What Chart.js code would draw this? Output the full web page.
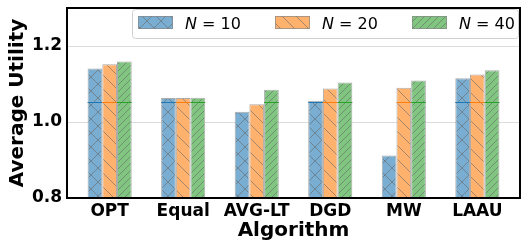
<!DOCTYPE html>
<html>
<head>
<meta charset="utf-8">
<script src="https://cdn.jsdelivr.net/npm/chart.js@4.4.1/dist/chart.umd.min.js"></script>
<style>
  html, body { margin: 0; padding: 0; background: #fff; }
  #wrap { width: 522px; height: 241px; }
</style>
</head>
<body>
<div id="wrap"><canvas id="chart" width="522" height="241"></canvas></div>
<script>
// data
const algorithms = ['OPT', 'Equal', 'AVG-LT', 'DGD', 'MW', 'LAAU'];
const seriesNames = ['10', '20', '40'];
const n10 = [1.141, 1.063, 1.027, 1.056, 0.912, 1.115];
const n20 = [1.152, 1.063, 1.047, 1.088, 1.090, 1.125];
const n40 = [1.159, 1.064, 1.085, 1.104, 1.109, 1.136];
const yTicks = [0.8, 1.0, 1.2];
const refLevel = 1.053; // thin line visible inside the taller bars

const solid = ['#1f77b4', '#ff7f0e', '#2ca02c'];
const fills = ['rgb(121,173,210)', 'rgb(255,178,110)', 'rgb(128,198,128)'];
const hatchKinds = ['x', '\\', '//'];

// build a small tile to use as a hatched fill
function makeHatch(fill, kind) {
  const s = 14;
  const c = document.createElement('canvas');
  c.width = s; c.height = s;
  const g = c.getContext('2d');
  g.fillStyle = fill;
  g.fillRect(0, 0, s, s);
  g.strokeStyle = 'rgba(105,105,105,0.6)';
  g.lineWidth = 1;
  const offs = kind === '//' ? [-s, -s / 2, 0, s / 2, s] : [-s, 0, s];
  g.beginPath();
  if (kind !== '\\') {
    offs.forEach(x0 => { g.moveTo(x0, s); g.lineTo(x0 + s, 0); });
  }
  if (kind === '\\' || kind === 'x') {
    offs.forEach(x0 => { g.moveTo(x0, 0); g.lineTo(x0 + s, s); });
  }
  g.stroke();
  return g.createPattern(c, 'repeat');
}

const patterns = fills.map((f, i) => makeHatch(f, hatchKinds[i]));
const allSeries = [n10, n20, n40];

const datasets = allSeries.map((vals, i) => ({
  label: 'N = ' + seriesNames[i],
  data: vals.map((v, k) => ({ x: k, y: v })),
  backgroundColor: patterns[i],
  borderColor: 'rgba(135,135,135,0.7)',
  borderWidth: 1,
  categoryPercentage: 0.6,
  barPercentage: 1.0
}));

// frame, reference line and in-plot legend
const extras = {
  id: 'extras',
  afterDatasetsDraw(chart) {
    const ctx = chart.ctx;
    const y = chart.scales.y.getPixelForValue(refLevel);
    ctx.save();
    chart.data.datasets.forEach((ds, i) => {
      chart.getDatasetMeta(i).data.forEach((bar, k) => {
        if (allSeries[i][k] <= refLevel) return;
        ctx.strokeStyle = solid[i];
        ctx.lineWidth = 1;
        ctx.beginPath();
        ctx.moveTo(bar.x - bar.width / 2, Math.round(y) + 0.5);
        ctx.lineTo(bar.x + bar.width / 2, Math.round(y) + 0.5);
        ctx.stroke();
      });
    });
    ctx.restore();
  },
  afterDraw(chart) {
    const ctx = chart.ctx;
    const a = chart.chartArea;
    ctx.save();
    // legend box
    const lx = a.left + 65, ly = a.top + 1, lw = a.right - 2 - lx, lh = 29;
    ctx.fillStyle = 'rgba(255,255,255,0.85)';
    ctx.strokeStyle = '#d0d0d0';
    ctx.lineWidth = 1;
    ctx.beginPath();
    ctx.roundRect(lx + 0.5, ly + 0.5, lw, lh, 3);
    ctx.fill();
    ctx.stroke();
    chart.data.datasets.forEach((ds, i) => {
      const px = lx + 6 + i * 137;
      ctx.fillStyle = ds.backgroundColor;
      ctx.fillRect(px, ly + 7, 35, 13);
      ctx.strokeStyle = 'rgba(135,135,135,0.7)';
      ctx.strokeRect(px + 0.5, ly + 7.5, 34, 12);
      ctx.fillStyle = '#000';
      ctx.textBaseline = 'alphabetic';
      ctx.font = 'italic 16px "DejaVu Sans"';
      const tx = px + 47;
      ctx.fillText('N', tx, ly + 20);
      const w = ctx.measureText('N').width;
      ctx.font = '16px "DejaVu Sans"';
      ctx.fillText(' = ' + seriesNames[i], tx + w, ly + 20);
    });
    // axes frame
    ctx.strokeStyle = '#000';
    ctx.lineWidth = 2;
    ctx.strokeRect(a.left, a.top, a.right - a.left, a.bottom - a.top);
    ctx.restore();
  }
};

new Chart(document.getElementById('chart'), {
  type: 'bar',
  data: { datasets: datasets },
  options: {
    responsive: false,
    animation: false,
    layout: { padding: { top: 8, right: 2 } },
    plugins: { legend: { display: false }, tooltip: { enabled: false } },
    scales: {
      x: {
        type: 'linear',
        min: -0.58,
        max: 5.58,
        offset: false,
        grid: { display: false, drawTicks: false },
        border: { display: false },
        afterBuildTicks: axis => { axis.ticks = algorithms.map((_, i) => ({ value: i })); },
        ticks: {
          autoSkip: false,
          maxRotation: 0,
          padding: 3,
          color: '#000',
          font: { family: 'DejaVu Sans', size: 17, weight: 'bold' },
          callback: v => algorithms[v]
        },
        title: {
          display: true,
          text: 'Algorithm',
          color: '#000',
          padding: 0,
          font: { family: 'DejaVu Sans', size: 20, weight: 'bold', lineHeight: 1.0 }
        },
        afterFit: axis => { axis.height = 43; axis.paddingLeft = 0; axis.paddingRight = 0; }
      },
      y: {
        min: 0.8,
        max: 1.3,
        grid: { color: '#dcdcdc', lineWidth: 1, drawTicks: false },
        border: { display: false },
        afterBuildTicks: axis => { axis.ticks = yTicks.map(v => ({ value: v })); },
        ticks: {
          padding: 5,
          color: '#000',
          font: { family: 'DejaVu Sans', size: 17, weight: 'bold' },
          callback: v => v.toFixed(1)
        },
        title: {
          display: true,
          text: 'Average Utility',
          color: '#000',
          padding: { top: 6, bottom: 0 },
          font: { family: 'DejaVu Sans', size: 20, weight: 'bold' }
        },
        afterFit: axis => { axis.width = 67; axis.paddingTop = 0; axis.paddingBottom = 0; }
      }
    }
  },
  plugins: [extras]
});
</script>
</body>
</html>
